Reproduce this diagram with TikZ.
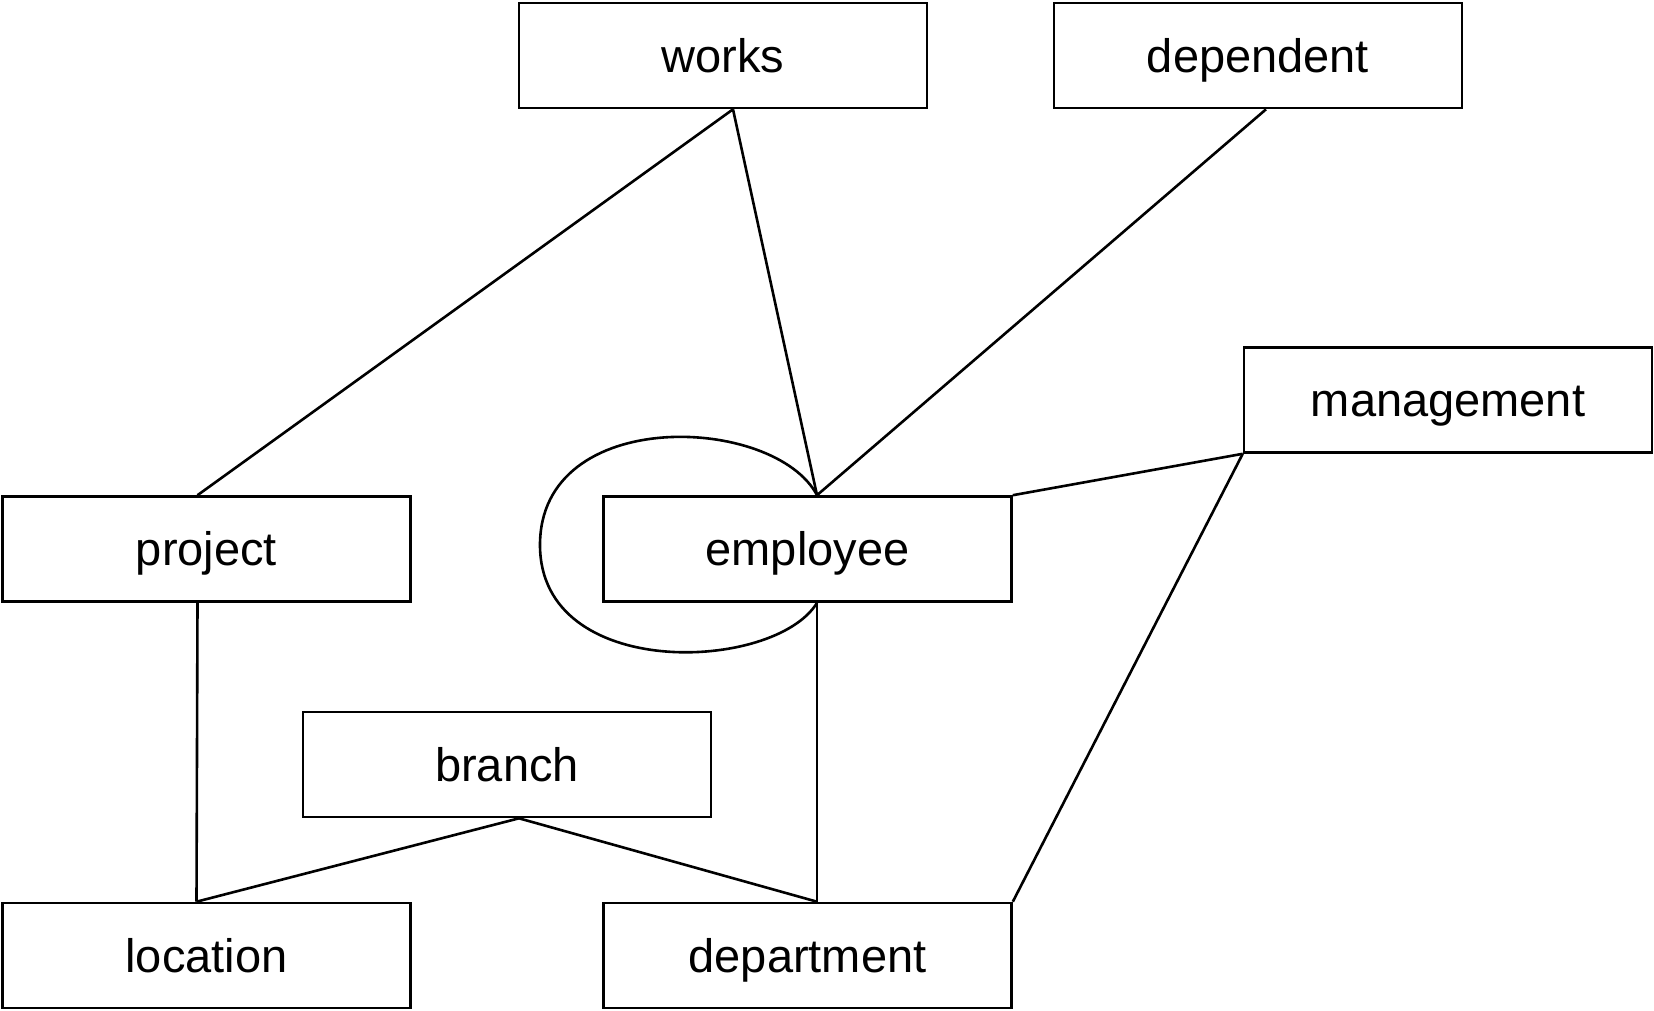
\documentclass[tikz,border=0pt]{standalone}
\usepackage{fontspec}
\setmainfont{Liberation Sans}
\usepackage{tikz}
\usetikzlibrary{positioning}

\tikzset{
  entity/.style={draw,line width=2.6pt,minimum width=408pt,minimum height=105pt,
    inner sep=0pt,text height=35pt,text depth=2pt,font=\fontsize{47}{56}\selectfont},
  link/.style={line width=2.6pt}
}

\begin{document}
\begin{tikzpicture}[x=1pt,y=-1pt,on grid]
  \useasboundingbox (0,0) rectangle (1654,1010);
  \node[entity] (employee) at (807.5,549) {employee};
  \node[entity] (department) [below=406.5pt of employee] {department};
  \node[entity] (location) [left=601pt of department] {location};
  \node[entity] (project) [above=406.5pt of location] {project};
  \node[entity] (branch) at (507,764.5) {branch};
  \node[entity] (works) at (723,55.5) {works};
  \node[entity] (dependent) at (1258,55.5) {dependent};
  \node[entity] (management) at (1448,400) {management};
  % points where the lines meet the boxes
  \coordinate (e top) at ([xshift=9.5pt]employee.north);
  \coordinate (e bot) at ([xshift=9.5pt]employee.south);
  \path[link]
  ([xshift=10pt]works.south)
  edge ([xshift=-9pt]project.north)
  edge (e top)
  ([xshift=8pt]dependent.south)
  edge (e top)
  (management.south west)
  edge (employee.north east)
  edge (department.north east)
  (e bot)
  edge ([xshift=9.5pt]department.north)
  ([xshift=-9pt]project.south)
  edge ([xshift=-10pt]location.north)
  ([xshift=12pt]branch.south)
  edge ([xshift=-10pt]location.north)
  edge ([xshift=9.5pt]department.north)
  ;
  % self loop on employee
  \draw[link] (e top) .. controls (775,415) and (540,405) .. (540,545)
    .. controls (540,682) and (775,672) .. (e bot);
\end{tikzpicture}
\end{document}
